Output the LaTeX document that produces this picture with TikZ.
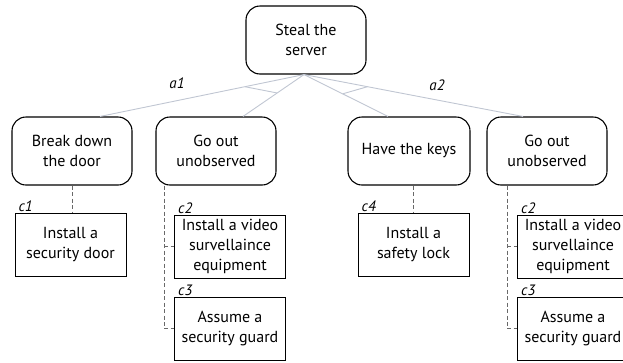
\documentclass[tikz,border=0pt]{standalone}
\usepackage{fontspec}
\setmainfont{PT Sans}
\usetikzlibrary{positioning}
\definecolor{andline}{RGB}{192,198,210}
\definecolor{refline}{RGB}{105,105,105}
\begin{document}
\begin{tikzpicture}[
            x=1pt, y=-1pt,
            font=\fontsize{16}{20}\selectfont,
            goal/.style={
                draw,
                rounded corners=14pt,
                line width=1.1pt,
                align=center,
                minimum width=120pt,
                minimum height=68pt,
                inner sep=2pt
            },
            ctrl/.style={
                draw,
                line width=1pt,
                align=center,
                minimum width=111pt,
                minimum height=63pt,
                inner sep=2pt
            },
            tag/.style={
                font=\fontsize{15}{16}\selectfont\itshape,
                inner sep=1pt
            },
            decomp/.style={andline, line width=0.9pt},
            link/.style={refline, dash pattern=on 4pt off 2.5pt, line width=0.8pt}
        ]
            \useasboundingbox (0,0) rectangle (623,362);

            \node[goal] (root) at (306,40) {Steal the\\server};

            \node[goal] (g1) at (72,151) {Break down\\the door};
            \node[goal] (g2) at (216,151) {Go out\\unobserved};
            \node[goal, minimum width=122pt] (g3) at (409,151) {Have the keys};
            \node[goal] (g4) at (547,151) {Go out\\unobserved};

            \node[ctrl] (k1) at (70.5,244.5) {Install a\\security door};
            \node[ctrl] (k2) at (230,246.5) {Install a video\\survellaince\\equipment};
            \node[ctrl] (k3) at (230,328.5) {Assume a\\security guard};
            \node[ctrl] (k4) at (413.5,244.5) {Install a\\safety lock};
            \node[ctrl] (k5) at (573,246.5) {Install a video\\survellaince\\equipment};
            \node[ctrl] (k6) at (573,328.5) {Assume a\\security guard};

            \node[tag, anchor=south west] (c1) at ([xshift=3pt]k1.north west) {c1};
            \node[tag, anchor=south west] (c2) at ([xshift=3pt]k2.north west) {c2};
            \node[tag, anchor=south west] (c3) at ([xshift=3pt]k3.north west) {c3};
            \node[tag, anchor=south west] (c4) at ([xshift=3pt]k4.north west) {c4};
            \node[tag, anchor=south west] (c2b) at ([xshift=3pt]k5.north west) {c2};
            \node[tag, anchor=south west] (c3b) at ([xshift=3pt]k6.north west) {c3};

            % decompositions
            \draw[decomp] ([xshift=-2pt]root.south) -- ([xshift=28pt]g1.north)
                coordinate[pos=0.29] (p1);
            \draw[decomp] ([xshift=-2pt]root.south) -- ([xshift=27pt]g2.north)
                coordinate[pos=0.44] (p2);
            \draw[decomp] ([xshift=-2pt]root.south) -- ([xshift=-21pt]g3.north)
                coordinate[pos=0.46] (p3);
            \draw[decomp] ([xshift=-2pt]root.south) -- ([xshift=-24pt]g4.north)
                coordinate[pos=0.29] (p4);
            \draw[decomp] (p1) -- (p2);
            \draw[decomp] (p3) -- (p4);

            \node[tag] (a1) at (177,83) {a1};
            \node[tag] (a2) at (437,85) {a2};

            % countermeasures
            \draw[link] (g1.south) -- (g1.south |- k1.north);
            \draw[link] ([xshift=-10pt]k2.west |- g2.south) |- (k3.west);
            \draw[link] ([xshift=-10pt]k2.west) -- (k2.west);
            \draw[link] (g3.south -| k4.north) -- (k4.north);
            \draw[link] ([xshift=-10pt]k5.west |- g4.south) |- (k6.west);
            \draw[link] ([xshift=-10pt]k5.west) -- (k5.west);

        \end{tikzpicture}
\end{document}
